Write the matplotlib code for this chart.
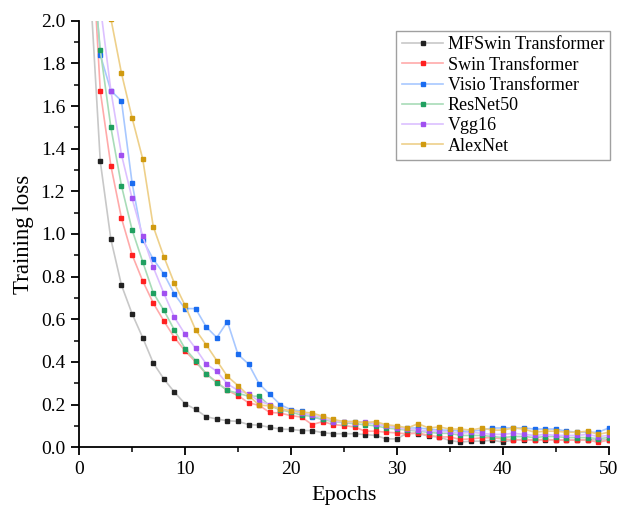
import numpy as np
import matplotlib
matplotlib.use("Agg")
from matplotlib import pyplot as plt
from matplotlib.ticker import MultipleLocator

plt.rcParams["font.family"] = ["Liberation Serif", "DejaVu Serif"]

#data area
epochs = list(range(1, 51))

mfswin = [2.2, 1.34, 0.975, 0.76, 0.626, 0.514, 0.395, 0.32, 0.258, 0.204,
          0.177, 0.143, 0.132, 0.124, 0.121, 0.106, 0.103, 0.093, 0.085, 0.083,
          0.078, 0.078, 0.068, 0.063, 0.063, 0.063, 0.059, 0.055, 0.039, 0.039,
          0.067, 0.064, 0.052, 0.048, 0.031, 0.024, 0.028, 0.028, 0.033, 0.024,
          0.034, 0.034, 0.034, 0.035, 0.034, 0.033, 0.034, 0.035, 0.034, 0.034]
swin = [2.55, 1.67, 1.32, 1.074, 0.903, 0.78, 0.676, 0.592, 0.514, 0.452,
        0.40, 0.344, 0.305, 0.266, 0.242, 0.208, 0.196, 0.163, 0.16, 0.148,
        0.141, 0.106, 0.12, 0.106, 0.101, 0.095, 0.075, 0.075, 0.07, 0.067,
        0.062, 0.067, 0.055, 0.048, 0.048, 0.036, 0.039, 0.044, 0.044, 0.039,
        0.034, 0.036, 0.034, 0.036, 0.034, 0.033, 0.033, 0.034, 0.023, 0.033]
visio = [2.5, 1.84, 1.672, 1.624, 1.24, 0.973, 0.882, 0.813, 0.718, 0.65,
         0.65, 0.564, 0.514, 0.589, 0.435, 0.39, 0.297, 0.248, 0.199, 0.176,
         0.169, 0.141, 0.13, 0.125, 0.12, 0.12, 0.115, 0.11, 0.10, 0.095,
         0.09, 0.09, 0.085, 0.08, 0.08, 0.075, 0.075, 0.08, 0.09, 0.09,
         0.09, 0.09, 0.085, 0.085, 0.085, 0.075, 0.07, 0.07, 0.07, 0.09]
resnet = [2.4, 1.863, 1.50, 1.226, 1.02, 0.87, 0.724, 0.642, 0.549, 0.462,
          0.406, 0.344, 0.302, 0.266, 0.253, 0.239, 0.239, 0.194, 0.175, 0.165,
          0.15, 0.145, 0.13, 0.12, 0.115, 0.11, 0.105, 0.10, 0.09, 0.085,
          0.08, 0.075, 0.07, 0.065, 0.065, 0.055, 0.055, 0.055, 0.05, 0.045,
          0.05, 0.05, 0.045, 0.05, 0.05, 0.045, 0.045, 0.045, 0.04, 0.045]
vgg = [2.6, 2.07, 1.672, 1.372, 1.167, 0.99, 0.844, 0.722, 0.609, 0.53,
       0.463, 0.39, 0.356, 0.297, 0.266, 0.25, 0.216, 0.20, 0.18, 0.17,
       0.16, 0.15, 0.14, 0.12, 0.12, 0.115, 0.12, 0.11, 0.10, 0.09,
       0.085, 0.08, 0.075, 0.075, 0.07, 0.065, 0.07, 0.065, 0.06, 0.06,
       0.065, 0.06, 0.055, 0.06, 0.055, 0.055, 0.055, 0.06, 0.05, 0.055]
alexnet = [2.6, 2.3, 2.01, 1.754, 1.545, 1.353, 1.035, 0.894, 0.768, 0.665,
           0.55, 0.48, 0.406, 0.332, 0.289, 0.242, 0.197, 0.194, 0.18, 0.17,
           0.165, 0.16, 0.145, 0.13, 0.12, 0.12, 0.115, 0.12, 0.105, 0.10,
           0.09, 0.11, 0.09, 0.095, 0.085, 0.085, 0.08, 0.09, 0.08, 0.08,
           0.09, 0.085, 0.07, 0.075, 0.075, 0.07, 0.07, 0.075, 0.06, 0.07]

names = ["MFSwin Transformer", "Swin Transformer", "Visio Transformer",
         "ResNet50", "Vgg16", "AlexNet"]
series = [mfswin, swin, visio, resnet, vgg, alexnet]
colors = ["#222222", "#ff2020", "#1a6cf0", "#20a060", "#a050f0", "#d09a10"]
line_colors = ["#c8c8c8", "#ffaaaa", "#a8c8ff", "#a8dcb8", "#dcc0ff", "#eed08a"]

#plot area
fig = plt.figure(figsize=(6.18, 5.07), dpi=100)
ax = fig.add_axes([0.128, 0.118, 0.857, 0.841])

for ys, name, c, lc in zip(series, names, colors, line_colors):
  ax.plot(epochs, ys, color=lc, lw=1.2, marker="s", markersize=2.2,
          markerfacecolor=c, markeredgecolor=c, label=name)

ax.set_xlim(0, 50)
ax.set_ylim(0, 2.0)
ax.xaxis.set_major_locator(MultipleLocator(10))
ax.xaxis.set_minor_locator(MultipleLocator(5))
ax.yaxis.set_major_locator(MultipleLocator(0.2))
ax.yaxis.set_minor_locator(MultipleLocator(0.1))
ax.yaxis.set_major_formatter(plt.FuncFormatter(lambda v, p: "{0:.1f}".format(v)))

ax.spines["top"].set_visible(False)
ax.spines["right"].set_visible(False)
ax.spines["left"].set_linewidth(1.3)
ax.spines["bottom"].set_linewidth(1.3)
ax.tick_params(which="major", direction="out", length=6, width=1.3, labelsize=14, pad=4)
ax.tick_params(which="minor", direction="out", length=3.5, width=1.1)

ax.set_xlabel("Epochs", fontsize=16, labelpad=6)
ax.set_ylabel("Training loss", fontsize=16.5, labelpad=5)

leg = ax.legend(loc="upper right", fontsize=13, frameon=True, fancybox=False,
                edgecolor="#888888", handlelength=2.3, borderpad=0.3,
                labelspacing=0.18, handletextpad=0.25, borderaxespad=0,
                bbox_to_anchor=(1.002, 0.976))
leg.get_frame().set_linewidth(1.0)

plt.savefig("out.png", dpi=100)
